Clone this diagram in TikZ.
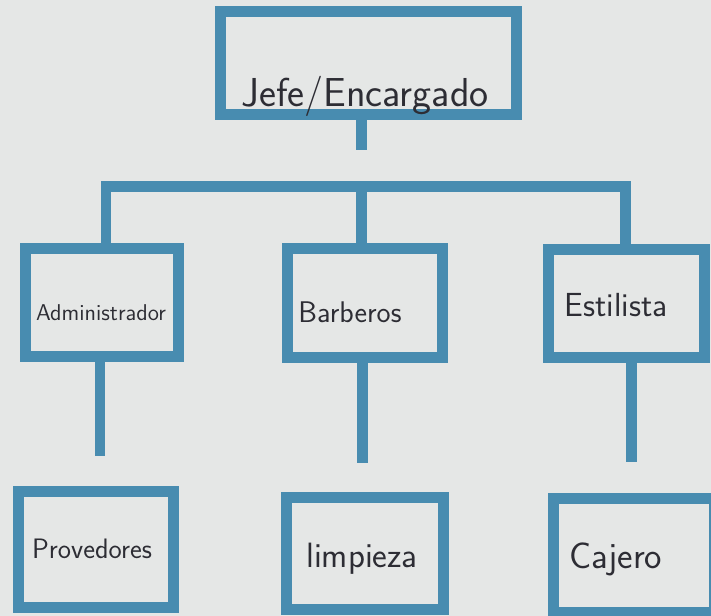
\documentclass[tikz,border=0pt]{standalone}
\usepackage{tikz}

\definecolor{chartblue}{RGB}{72,140,176}
\definecolor{paper}{RGB}{229,231,230}
\definecolor{ink}{RGB}{45,45,52}

\tikzset{
  orgbox/.style={draw=chartblue, line width=0.22cm, inner sep=0pt},
  orgline/.style={draw=chartblue, line width=0.22cm},
  orgtext/.style={text=ink, anchor=base, inner sep=0pt,
    font=\sffamily\fontsize{18}{20}\selectfont}
}

\begin{document}
\begin{tikzpicture}[x=0.02cm, y=-0.02cm]
  \clip (0,0) rectangle (711,616);
  \fill[paper] (0,0) rectangle (711,616);

  % boxes
  \node[orgbox, minimum width=5.92cm, minimum height=2.06cm] (jefe) at (368.5,63) {};
  \node[orgbox, minimum width=3.06cm, minimum height=2.16cm] (admin) at (102,302.5) {};
  \node[orgbox, minimum width=3.10cm, minimum height=2.18cm] (barb) at (365,303) {};
  \node[orgbox, minimum width=3.12cm, minimum height=2.16cm] (estil) at (626.5,303.5) {};
  \node[orgbox, minimum width=3.10cm, minimum height=2.32cm] (prov) at (96,549.5) {};
  \node[orgbox, minimum width=3.14cm, minimum height=2.24cm] (limp) at (365,553.5) {};
  \node[orgbox, minimum width=3.22cm, minimum height=2.28cm] (caj) at (634,555.5) {};

  % connectors
  \coordinate (jefeEnd) at (361,150);
  \coordinate (barL) at (106,186);
  \coordinate (barM) at (361,186);
  \coordinate (barR) at (625,186);
  \coordinate (admEnd) at (100,456);
  \coordinate (barbEnd) at (362,463);
  \coordinate (estEnd) at (631,462);

  \draw[orgline] (jefeEnd |- jefe.south) -- (jefeEnd);
  \draw[orgline] (barL |- admin.north) -- (barL) -- (barR) -- (barR |- estil.north);
  \draw[orgline] (barM) -- (barM |- barb.north);
  \draw[orgline] (admEnd |- admin.south) -- (admEnd);
  \draw[orgline] (barbEnd |- barb.south) -- (barbEnd);
  \draw[orgline] (estEnd |- estil.south) -- (estEnd);

  % labels
  \node[orgtext, font=\sffamily\fontsize{23}{26}\selectfont] (jefeTxt) at (365,106) {Jefe/Encargado};
  \node[orgtext, font=\sffamily\fontsize{13}{15}\selectfont] (adminTxt) at (101,320) {Administrador};
  \node[orgtext, font=\sffamily\fontsize{17}{20}\selectfont] (barbTxt) at (350,322) {Barberos};
  \node[orgtext, font=\sffamily\fontsize{19}{22}\selectfont] (estilTxt) at (616,316) {Estilista};
  \node[orgtext, font=\sffamily\fontsize{16}{19}\selectfont] (provTxt) at (92,558) {Provedores};
  \node[orgtext, font=\sffamily\fontsize{20}{23}\selectfont] (limpTxt) at (362,567) {limpieza};
  \node[orgtext, font=\sffamily\fontsize{21}{24}\selectfont] (cajTxt) at (616,568) {Cajero};
\end{tikzpicture}
\end{document}
